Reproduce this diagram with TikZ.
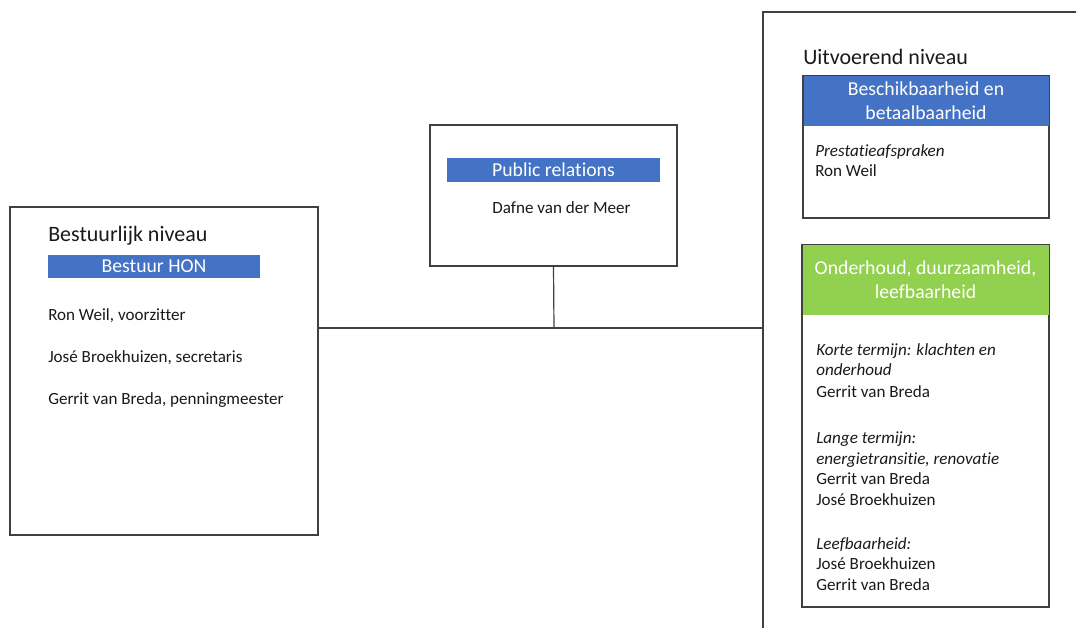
\documentclass[tikz,border=0pt]{standalone}
\usepackage{fontspec}
\setmainfont{Carlito}[Ligatures=NoCommon]
\definecolor{hdrblue}{HTML}{4472C4}
\definecolor{hdrgreen}{HTML}{92D050}
\definecolor{edge}{HTML}{404040}
\definecolor{ink}{HTML}{1A1A1A}
\begin{document}
\begin{tikzpicture}[x=0.75pt,y=-0.75pt,
  box/.style={draw=edge,line width=0.9pt,fill=white,inner sep=0pt},
  hdr/.style={inner sep=0pt,text=white,align=center,font=\fontsize{14.8}{17.8}\selectfont},
  title/.style={anchor=base west,inner sep=0pt,text=ink,font=\fontsize{16.5}{19}\selectfont},
  txt/.style={anchor=base west,inner sep=0pt,text=ink,font=\fontsize{12.8}{15}\selectfont},
  itxt/.style={txt,font=\fontsize{12.8}{15}\selectfont\itshape},
  conn/.style={draw=edge,line width=0.9pt}]
\useasboundingbox (0,0) rectangle (1076,628);
% outer boxes
\node[box,minimum width=308*0.75pt,minimum height=328*0.75pt] (bestuur) at (164,371) {};
\node[box,minimum width=247*0.75pt,minimum height=141*0.75pt] (pr) at (553.5,195.5) {};
\node[box,minimum width=337*0.75pt,minimum height=638*0.75pt] (exec) at (931.5,331) {};
% connectors
\coordinate (j) at (554,328);
\draw[conn] (pr.south) -- (j);
\draw[conn] (j -| bestuur.east) -- (j -| exec.west);
% left box
\node[title] (t1) at (48,241) {Bestuurlijk niveau};
\node[hdr,fill=hdrblue,minimum width=212*0.75pt,minimum height=23*0.75pt] (hon) at (154,266.5) {Bestuur HON};
\node[txt] (l1) at (48,320) {Ron Weil, voorzitter};
\node[txt] (l2) at (48,362) {José Broekhuizen, secretaris};
\node[txt] (l3) at (48,404) {Gerrit van Breda, penningmeester};
% middle box
\node[hdr,fill=hdrblue,minimum width=213*0.75pt,minimum height=24*0.75pt] (prh) at (553.5,170) {Public relations};
\node[txt,anchor=base] (dafne) at (561.5,213) {Dafne van der Meer};
% right side
\node[title] (t2) at (803,64) {Uitvoerend niveau};
\node[box,minimum width=246*0.75pt,minimum height=142*0.75pt] (b1) at (926,147) {};
\node[hdr,fill=hdrblue,minimum width=245*0.75pt,minimum height=50*0.75pt] (b1h) at (926,100.5) {Beschikbaarheid en\\betaalbaarheid};
\draw[conn] (b1.north west) rectangle (b1.south east);
\node[itxt] (p1) at (815,156) {Prestatieafspraken};
\node[txt] (p2) at (815,176) {Ron Weil};
\node[box,minimum width=247*0.75pt,minimum height=362*0.75pt] (b2) at (925.5,426) {};
\node[hdr,fill=hdrgreen,minimum width=246*0.75pt,minimum height=70*0.75pt] (b2h) at (925.5,279.5) {Onderhoud, duurzaamheid,\\leefbaarheid};
\draw[conn] (b2.north west) rectangle (b2.south east);
\node[itxt] (k1) at (816,355) {Korte termijn: klachten en};
\node[itxt] (k2) at (816,375) {onderhoud};
\node[txt] (k3) at (816,397) {Gerrit van Breda};
\node[itxt] (m1) at (816,443) {Lange termijn:};
\node[itxt] (m2) at (816,464) {energietransitie, renovatie};
\node[txt] (m3) at (816,484) {Gerrit van Breda};
\node[txt] (m4) at (816,505) {José Broekhuizen};
\node[itxt] (n1) at (816,549) {Leefbaarheid:};
\node[txt] (n2) at (816,569) {José Broekhuizen};
\node[txt] (n3) at (816,590) {Gerrit van Breda};
\end{tikzpicture}
\end{document}
